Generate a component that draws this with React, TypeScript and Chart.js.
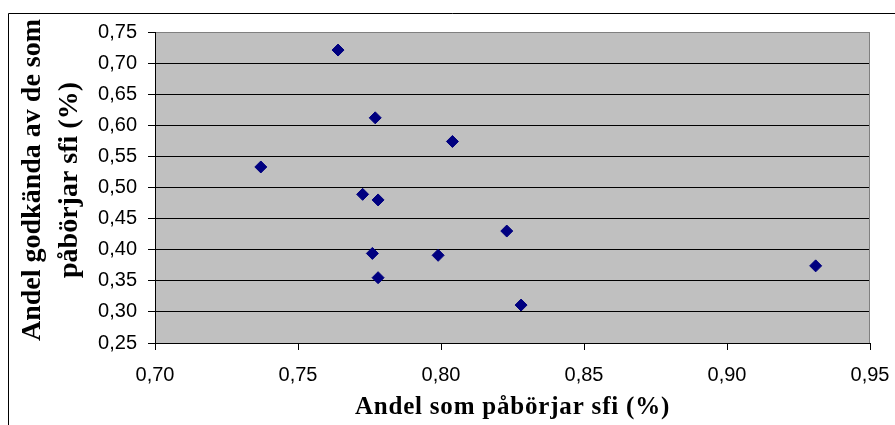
import React, { useEffect, useRef } from "react";
import { Chart, registerables } from "chart.js";

Chart.register(...registerables);

// Data
const xValues = [0.764, 0.777, 0.804, 0.737, 0.7726, 0.778, 0.823, 0.776, 0.799, 0.778, 0.828, 0.931];
const yValues = [0.721, 0.612, 0.574, 0.533, 0.489, 0.48, 0.43, 0.394, 0.391, 0.355, 0.311, 0.374];
const xTicks = [0.7, 0.75, 0.8, 0.85, 0.9, 0.95];
const yTicks = [0.25, 0.3, 0.35, 0.4, 0.45, 0.5, 0.55, 0.6, 0.65, 0.7, 0.75];
const xTitle = "Andel som påbörjar sfi (%)";
const yTitleLines = ["Andel godkända av de som", "påbörjar sfi (%)"];

const fmt = (v: number) => v.toFixed(2).replace(".", ",");

const decor = {
  id: "decor",
  beforeDraw(chart: any) {
    const { ctx, chartArea: a } = chart;
    ctx.save();
    ctx.fillStyle = "#ffffff";
    ctx.fillRect(0, 0, chart.width, chart.height);
    ctx.fillStyle = "#C0C0C0";
    ctx.fillRect(a.left, a.top, a.right - a.left, a.bottom - a.top);
    ctx.strokeStyle = "#000000";
    ctx.lineWidth = 1;
    ctx.beginPath();
    ctx.moveTo(8.5, chart.height + 2);
    ctx.lineTo(8.5, 13.5);
    ctx.lineTo(chart.width + 2, 13.5);
    ctx.stroke();
    ctx.restore();
  },
  beforeDatasetsDraw(chart: any) {
    const { ctx, chartArea: a } = chart;
    ctx.save();
    ctx.strokeStyle = "#808080";
    ctx.lineWidth = 1;
    ctx.beginPath();
    ctx.moveTo(Math.round(a.right) - 0.5, a.top);
    ctx.lineTo(Math.round(a.right) - 0.5, a.bottom);
    ctx.stroke();
    ctx.restore();
  },
  afterDraw(chart: any) {
    const { ctx, chartArea: a } = chart;
    ctx.save();
    ctx.fillStyle = "#000000";
    ctx.textBaseline = "alphabetic";
    ctx.textAlign = "center";
    ctx.font = 'bold 25px "Liberation Serif", "Times New Roman", serif';
    (ctx as any).letterSpacing = "0.8px";
    ctx.fillText(xTitle, (a.left + a.right) / 2, 414);
    ctx.font = 'bold 28px "Liberation Serif", "Times New Roman", serif';
    (ctx as any).letterSpacing = "0px";
    const baselines = [40, 77];
    yTitleLines.forEach((line, i) => {
      ctx.save();
      ctx.translate(baselines[i], 180);
      ctx.rotate(-Math.PI / 2);
      ctx.fillText(line, 0, 0);
      ctx.restore();
    });
    ctx.restore();
  },
};

export default function App() {
  const canvasRef = useRef<HTMLCanvasElement | null>(null);

  useEffect(() => {
    const canvas = canvasRef.current;
    if (!canvas) return;
    const tickFont = { family: '"Liberation Sans", Arial, sans-serif', size: 20 };
    const chart = new Chart(canvas, {
      type: "scatter",
      data: {
        datasets: [
          {
            data: xValues.map((x, i) => ({ x, y: yValues[i] })),
            pointStyle: "rectRot",
            pointRadius: 6,
            pointHoverRadius: 6,
            backgroundColor: "#000080",
            borderColor: "#000080",
            borderWidth: 1,
          },
        ],
      },
      options: {
        responsive: false,
        animation: false,
        devicePixelRatio: 1,
        layout: { padding: { left: 0, top: 32, right: 25, bottom: 0 } },
        plugins: {
          legend: { display: false },
          tooltip: { enabled: false },
          title: { display: false },
        },
        scales: {
          x: {
            type: "linear",
            min: 0.7,
            max: 0.95,
            afterBuildTicks: (s: any) => {
              s.ticks = xTicks.map((v) => ({ value: v }));
            },
            afterFit: (s: any) => {
              s.height = 82;
              s.paddingLeft = 0;
              s.paddingRight = 0;
            },
            ticks: {
              callback: (v: any) => fmt(Number(v)),
              color: "#000000",
              font: tickFont,
              padding: 13,
              maxRotation: 0,
              autoSkip: false,
            },
            grid: {
              drawOnChartArea: false,
              drawTicks: true,
              tickLength: 7,
              tickColor: "#000000",
              color: "#000000",
            },
            border: { display: true, color: "#000000", width: 1 },
            title: { display: false },
          },
          y: {
            type: "linear",
            min: 0.25,
            max: 0.75,
            afterBuildTicks: (s: any) => {
              s.ticks = yTicks.map((v) => ({ value: v }));
            },
            afterFit: (s: any) => {
              s.width = 155;
              s.paddingTop = 0;
              s.paddingBottom = 0;
            },
            ticks: {
              callback: (v: any) => fmt(Number(v)),
              color: "#000000",
              font: tickFont,
              padding: 11,
              autoSkip: false,
            },
            grid: {
              drawOnChartArea: true,
              drawTicks: true,
              tickLength: 7,
              tickColor: "#000000",
              lineWidth: 1,
              color: (c: any) =>
                c.tick && Math.abs(c.tick.value - 0.75) < 1e-6 ? "#808080" : "#000000",
            },
            border: { display: true, color: "#000000", width: 1 },
            title: { display: false },
          },
        },
      },
      plugins: [decor],
    });
    return () => chart.destroy();
  }, []);

  return (
    <div style={{ position: "fixed", left: 0, top: 0, width: 895, height: 425, background: "#fff" }}>
      <canvas ref={canvasRef} width={895} height={425} style={{ width: 895, height: 425, display: "block" }} />
    </div>
  );
}
